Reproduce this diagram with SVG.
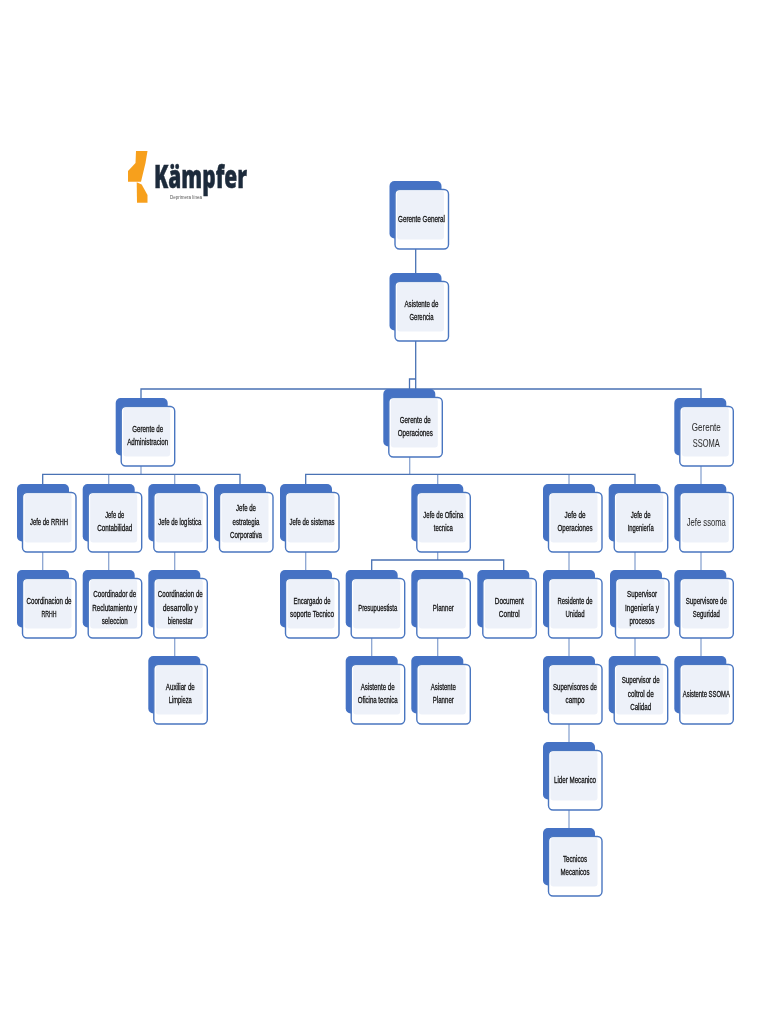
<svg xmlns="http://www.w3.org/2000/svg" width="768" height="1024" viewBox="0 0 768 1024">
<style>
.bk{fill:#4472c4}
.fr{fill:#fff;stroke:#4a76c0;stroke-width:1.4}
.in{fill:#edf1f9}
text{font-family:"Liberation Sans",Arial,sans-serif;fill:#111;text-anchor:middle;font-size:9.5px;stroke:#111;stroke-width:.3}
.big{font-size:11.5px;stroke-width:.05;fill:#333}
.bar{fill:none;stroke:#4a72b4;stroke-width:1.3}
.st{fill:none;stroke:#8ba5d2;stroke-width:1.3}
.logo{font-family:"Open Sans",sans-serif;font-weight:800;font-size:32px;fill:#1d2b3a;stroke:#1d2b3a;stroke-width:.5;text-anchor:start}
.sub{font-size:5.5px;fill:#555;stroke:none;text-anchor:start}
</style>
<defs>
<filter id="soft" x="-5%" y="-5%" width="110%" height="110%"><feGaussianBlur stdDeviation="0.35"/></filter>
<g id="card">
<rect class="bk" width="52" height="57.5" rx="5"/>
<rect class="fr" x="5.5" y="8.5" width="53.5" height="59.5" rx="4.5"/>
<rect class="in" x="7.5" y="9.5" width="47" height="49" rx="3"/>
</g>
</defs>
<rect width="768" height="1024" fill="#fff"/>
<g filter="url(#soft)">
<g id="logo">
<path d="M136 151H147.5L145.5 163L141 181.7H128V171L135.5 163Z" fill="#f7a01f"/>
<path d="M136.7 182.3L141.7 184.5L147.5 195V202.7H137Z" fill="#f7a01f"/>
<text class="logo" x="154" y="188.3" textLength="93" lengthAdjust="spacingAndGlyphs">Kämpfer</text>
<text class="sub" x="170" y="198.5" textLength="32" lengthAdjust="spacingAndGlyphs">Deprimera línea</text>
</g>
<g id="connectors">
<path class="bar" d="M415.7 249V273M415.7 341V389M141 398V389H701V398M415.7 379H409.5V389"/>
<path class="st" d="M141 466V474M409.7 457V474M701 466V484M42.7 552V570M108.7 552V570M174.7 552V570M174.7 638V656M305.7 552V570M437.7 552V560M371.7 638V656M437.7 638V656M569 552V570M569 638V656M569 724V742M569 810V828M635 552V570M635 638V656M701 552V570M701 638V656M108.7 474V484M174.7 474V484M437.7 474V484M569 474V484"/>
<path class="bar" d="M42.7 484V474.3H240V484M305.7 484V474.3H635V484M371.7 570V560H503.7V570"/>
</g>
<g id="n-general" transform="translate(389.5 181)"><use href="#card"/><text x="32" y="40.5" textLength="47" lengthAdjust="spacingAndGlyphs">Gerente General</text></g>
<g id="n-asistente-gerencia" transform="translate(389.5 273)"><use href="#card"/><text x="32" y="33.5" textLength="34" lengthAdjust="spacingAndGlyphs">Asistente de</text><text x="32" y="47" textLength="24" lengthAdjust="spacingAndGlyphs">Gerencia</text></g>
<g id="n-administracion" transform="translate(115.7 398)"><use href="#card"/><text x="32" y="33.5" textLength="31" lengthAdjust="spacingAndGlyphs">Gerente de</text><text x="32" y="47" textLength="41" lengthAdjust="spacingAndGlyphs">Administracion</text></g>
<g id="n-operaciones" transform="translate(383.3 389)"><use href="#card"/><text x="32" y="33.5" textLength="31" lengthAdjust="spacingAndGlyphs">Gerente de</text><text x="32" y="47" textLength="35" lengthAdjust="spacingAndGlyphs">Operaciones</text></g>
<g id="n-ssoma" transform="translate(674.3 398)"><use href="#card"/><text class="big" x="32" y="32.5" textLength="29" lengthAdjust="spacingAndGlyphs">Gerente</text><text class="big" x="32" y="49" textLength="27" lengthAdjust="spacingAndGlyphs">SSOMA</text></g>
<g id="n-rrhh" transform="translate(17 484)"><use href="#card"/><text x="32" y="40.5" textLength="38" lengthAdjust="spacingAndGlyphs">Jefe de RRHH</text></g>
<g id="n-contabilidad" transform="translate(82.7 484)"><use href="#card"/><text x="32" y="33.5" textLength="19" lengthAdjust="spacingAndGlyphs">Jefe de</text><text x="32" y="47" textLength="35" lengthAdjust="spacingAndGlyphs">Contabilidad</text></g>
<g id="n-logistica" transform="translate(148.3 484)"><use href="#card"/><text x="31.5" y="40.5" textLength="43" lengthAdjust="spacingAndGlyphs">Jefe de logística</text></g>
<g id="n-estrategia" transform="translate(214 484)"><use href="#card"/><text x="32" y="27" textLength="20" lengthAdjust="spacingAndGlyphs">Jefe de</text><text x="32" y="40.5" textLength="27" lengthAdjust="spacingAndGlyphs">estrategia</text><text x="32" y="54" textLength="32" lengthAdjust="spacingAndGlyphs">Corporativa</text></g>
<g id="n-sistemas" transform="translate(280 484)"><use href="#card"/><text x="32" y="40.5" textLength="45" lengthAdjust="spacingAndGlyphs">Jefe de sistemas</text></g>
<g id="n-oficina" transform="translate(411.3 484)"><use href="#card"/><text x="32" y="33.5" textLength="40" lengthAdjust="spacingAndGlyphs">Jefe de Oficina</text><text x="32" y="47" textLength="19" lengthAdjust="spacingAndGlyphs">tecnica</text></g>
<g id="n-jefe-operaciones" transform="translate(543 484)"><use href="#card"/><text x="32" y="33.5" textLength="21" lengthAdjust="spacingAndGlyphs">Jefe de</text><text x="32" y="47" textLength="35" lengthAdjust="spacingAndGlyphs">Operaciones</text></g>
<g id="n-ingenieria" transform="translate(608.7 484)"><use href="#card"/><text x="32" y="33.5" textLength="20" lengthAdjust="spacingAndGlyphs">Jefe de</text><text x="32" y="47" textLength="26" lengthAdjust="spacingAndGlyphs">Ingeniería</text></g>
<g id="n-jefe-ssoma" transform="translate(674.3 484)"><use href="#card"/><text class="big" x="32" y="41.5" textLength="39" lengthAdjust="spacingAndGlyphs">Jefe ssoma</text></g>
<g id="n-coord-rrhh" transform="translate(17 570)"><use href="#card"/><text x="32" y="33.5" textLength="45" lengthAdjust="spacingAndGlyphs">Coordinacion de</text><text x="32" y="47" textLength="15" lengthAdjust="spacingAndGlyphs">RRHH</text></g>
<g id="n-coord-reclut" transform="translate(82.7 570)"><use href="#card"/><text x="32" y="27" textLength="43" lengthAdjust="spacingAndGlyphs">Coordinador de</text><text x="32" y="40.5" textLength="45" lengthAdjust="spacingAndGlyphs">Reclutamiento y</text><text x="32" y="54" textLength="26" lengthAdjust="spacingAndGlyphs">seleccion</text></g>
<g id="n-coord-desarrollo" transform="translate(148.3 570)"><use href="#card"/><text x="32" y="27" textLength="45" lengthAdjust="spacingAndGlyphs">Coordinacion de</text><text x="32" y="40.5" textLength="35" lengthAdjust="spacingAndGlyphs">desarrollo  y</text><text x="32" y="54" textLength="25" lengthAdjust="spacingAndGlyphs">bienestar</text></g>
<g id="n-soporte" transform="translate(280 570)"><use href="#card"/><text x="32" y="33.5" textLength="37" lengthAdjust="spacingAndGlyphs">Encargado de</text><text x="32" y="47" textLength="44" lengthAdjust="spacingAndGlyphs">soporte Tecnico</text></g>
<g id="n-presupuestista" transform="translate(345.7 570)"><use href="#card"/><text x="32" y="40.5" textLength="39" lengthAdjust="spacingAndGlyphs">Presupuestista</text></g>
<g id="n-planner" transform="translate(411.3 570)"><use href="#card"/><text x="32" y="40.5" textLength="21" lengthAdjust="spacingAndGlyphs">Planner</text></g>
<g id="n-document" transform="translate(477.3 570)"><use href="#card"/><text x="32" y="33.5" textLength="29" lengthAdjust="spacingAndGlyphs">Document</text><text x="32" y="47" textLength="21" lengthAdjust="spacingAndGlyphs">Control</text></g>
<g id="n-residente" transform="translate(543 570)"><use href="#card"/><text x="32" y="33.5" textLength="35" lengthAdjust="spacingAndGlyphs">Residente de</text><text x="32" y="47" textLength="19" lengthAdjust="spacingAndGlyphs">Unidad</text></g>
<g id="n-sup-ingenieria" transform="translate(610 570)"><use href="#card"/><text x="32" y="27" textLength="30" lengthAdjust="spacingAndGlyphs">Supervisor</text><text x="32" y="40.5" textLength="34" lengthAdjust="spacingAndGlyphs">Ingeniería y</text><text x="32" y="54" textLength="25" lengthAdjust="spacingAndGlyphs">procesos</text></g>
<g id="n-sup-seguridad" transform="translate(674.3 570)"><use href="#card"/><text x="32" y="33.5" textLength="41" lengthAdjust="spacingAndGlyphs">Supervisore de</text><text x="32" y="47" textLength="27" lengthAdjust="spacingAndGlyphs">Seguridad</text></g>
<g id="n-auxiliar" transform="translate(148.3 656)"><use href="#card"/><text x="32" y="33.5" textLength="29" lengthAdjust="spacingAndGlyphs">Auxiliar de</text><text x="32" y="47" textLength="23" lengthAdjust="spacingAndGlyphs">Limpieza</text></g>
<g id="n-asist-oficina" transform="translate(345.7 656)"><use href="#card"/><text x="32" y="33.5" textLength="34" lengthAdjust="spacingAndGlyphs">Asistente de</text><text x="32" y="47" textLength="40" lengthAdjust="spacingAndGlyphs">Oficina tecnica</text></g>
<g id="n-asist-planner" transform="translate(411.3 656)"><use href="#card"/><text x="32" y="33.5" textLength="25" lengthAdjust="spacingAndGlyphs">Asistente</text><text x="32" y="47" textLength="21" lengthAdjust="spacingAndGlyphs">Planner</text></g>
<g id="n-sup-campo" transform="translate(543 656)"><use href="#card"/><text x="32" y="33.5" textLength="44" lengthAdjust="spacingAndGlyphs">Supervisores de</text><text x="32" y="47" textLength="19" lengthAdjust="spacingAndGlyphs">campo</text></g>
<g id="n-sup-calidad" transform="translate(608.7 656)"><use href="#card"/><text x="32" y="27" textLength="38" lengthAdjust="spacingAndGlyphs">Supervisor de</text><text x="32" y="40.5" textLength="26" lengthAdjust="spacingAndGlyphs">coltrol de</text><text x="32" y="54" textLength="21" lengthAdjust="spacingAndGlyphs">Calidad</text></g>
<g id="n-asist-ssoma" transform="translate(674.3 656)"><use href="#card"/><text x="32" y="40.5" textLength="47" lengthAdjust="spacingAndGlyphs">Asistente SSOMA</text></g>
<g id="n-lider" transform="translate(543 742)"><use href="#card"/><text x="32" y="40.5" textLength="42" lengthAdjust="spacingAndGlyphs">Lider Mecanico</text></g>
<g id="n-tecnicos" transform="translate(543 828)"><use href="#card"/><text x="32" y="33.5" textLength="24" lengthAdjust="spacingAndGlyphs">Tecnicos</text><text x="32" y="47" textLength="29" lengthAdjust="spacingAndGlyphs">Mecanicos</text></g>
</g>
</svg>
